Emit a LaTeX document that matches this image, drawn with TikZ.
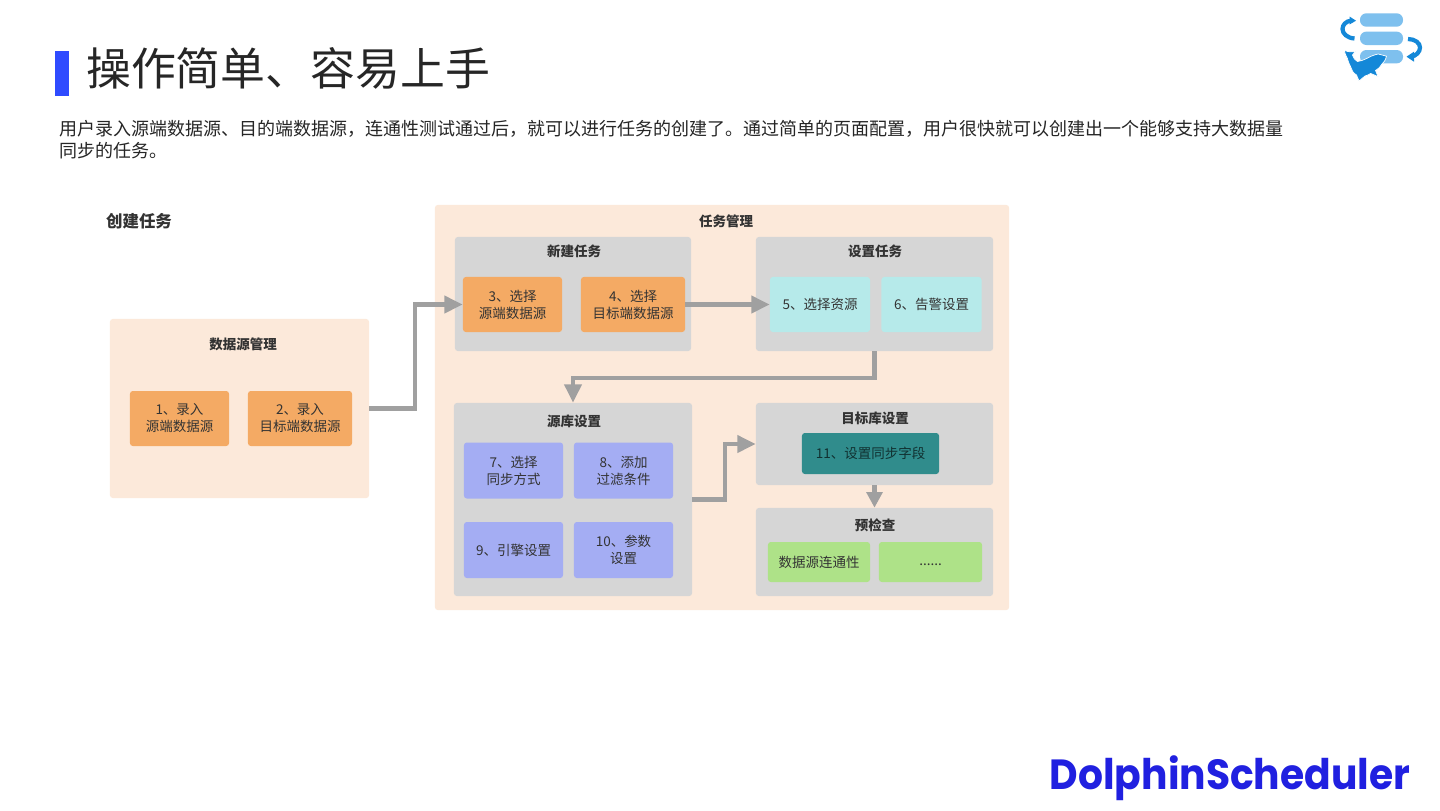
\documentclass[tikz,border=0pt]{standalone}
\usepackage{fontspec}
\usepackage{xcolor}
\setmainfont{Noto Sans CJK SC}
\newfontfamily\logofont[FakeStretch=0.93]{Poppins}
\usetikzlibrary{arrows.meta, positioning, calc}
\definecolor{cBar}{RGB}{47,75,255}
\definecolor{cPeach}{RGB}{252,233,218}
\definecolor{cPanel}{RGB}{214,214,214}
\definecolor{cOrange}{RGB}{244,170,100}
\definecolor{cCyan}{RGB}{182,234,234}
\definecolor{cViolet}{RGB}{164,173,243}
\definecolor{cTeal}{RGB}{48,140,140}
\definecolor{cGreen}{RGB}{174,226,136}
\definecolor{cFlow}{RGB}{160,160,160}
\definecolor{cInk}{RGB}{51,51,51}
\definecolor{cLogo}{RGB}{126,192,238}
\definecolor{cLogoDark}{RGB}{20,136,216}
\definecolor{cBrand}{RGB}{32,32,224}
\tikzset{
	panel/.style={rectangle, rounded corners=2pt, inner sep=0pt, fill=#1},
	panel/.default=cPanel,
	ptitle/.style={font=\fontsize{9.6}{12}\selectfont\bfseries, text=cInk, inner sep=0pt},
	% step cell
	acell/.style={rectangle, rounded corners=2pt, inner sep=0pt, align=center, text=cInk, fill=#1, font=\fontsize{9.6}{12.1}\selectfont},
	flowarrow/.style={-{Triangle[length=13pt, width=12pt]}, line width=2.9pt, draw=cFlow},
}
\begin{document}
\begin{tikzpicture}[x=0.025cm, y=-0.025cm]
	\useasboundingbox (0,0) rectangle (1440,810);
	\fill[white] (0,0) rectangle (1440,810);
	% heading
	\fill[cBar] (55,51) rectangle (69,96);
	\node[anchor=west, inner sep=0pt, text=black!85, font=\fontsize{31.9}{36}\selectfont] (head) at (86,68) {操作简单、容易上手};
	\node[anchor=north west, inner sep=0pt, text width=880pt, text=black!85, font=\fontsize{12.8}{15.6}\selectfont] (intro) at (59,120) {用户录入源端数据源、目的端数据源，连通性测试通过后，就可以进行任务的创建了。通过简单的页面配置，用户很快就可以创建出一个能够支持大数据量\\同步的任务。};
	\node[ptitle, font=\fontsize{11.7}{14}\selectfont\bfseries] (create) at (139,221) {创建任务};
	% panels
	\foreach \name/\cx/\cy/\bw/\bh/\col in {Ds/239.5/408.5/259/179/cPeach, Task/722/407.5/574/405/cPeach, New/573/294/236/114/cPanel, Set/874.5/294/237/114/cPanel, Src/573/499.5/238/193/cPanel, Tgt/874.5/444/237/82/cPanel, Chk/874.5/552/237/88/cPanel} {
		\node[panel=\col, minimum width=\bw*0.7113pt, minimum height=\bh*0.7113pt] (p\name) at (\cx,\cy) {};
	}
	\foreach \name/\cx/\cy/\txt in {Ds/243/344/数据源管理, Task/726/221/任务管理, New/574/251/新建任务, Set/875/251/设置任务, Src/574/421/源库设置, Tgt/875/418/目标库设置, Chk/875/525/预检查} {
		\node[ptitle] (t\name) at (\cx,\cy) {\txt};
	}
	% cells
	\foreach \idx/\cx/\cy/\bw/\txt in {1/179.5/418.5/99/{1、录入\\源端数据源}, 2/300/418.5/104/{2、录入\\目标端数据源}, 3/512.5/304.5/99/{3、选择\\源端数据源}, 4/633/304.5/104/{4、选择\\目标端数据源}} {
		\node[acell=cOrange, minimum width=\bw*0.7113pt, minimum height=55*0.7113pt] (c\idx) at (\cx,\cy) {\txt};
	}
	\foreach \idx/\cx/\txt in {5/820/5、选择资源, 6/931.5/6、告警设置} {
		\node[acell=cCyan, minimum width=100*0.7113pt, minimum height=55*0.7113pt] (c\idx) at (\cx,304.5) {\raisebox{-0.7pt}{\txt}};
	}
	\foreach \idx/\cx/\cy/\txt in {7/513.5/470.5/{7、选择\\同步方式}, 8/623.5/470.5/{8、添加\\过滤条件}, 9/513.5/550/\raisebox{-0.7pt}{9、引擎设置}, 10/623.5/550/{10、参数\\设置}} {
		\node[acell=cViolet, minimum width=99*0.7113pt, minimum height=56*0.7113pt] (c\idx) at (\cx,\cy) {\txt};
	}
	\node[acell=cTeal, minimum width=137*0.7113pt, minimum height=41*0.7113pt, text=black!65!cTeal] (c11) at (870.5,453.5) {\raisebox{-1.2pt}{11、设置同步字段}};
	\node[acell=cGreen, minimum width=102*0.7113pt, minimum height=40*0.7113pt] (c12) at (819,562) {\raisebox{-1.5pt}{数据源连通性}};
	\node[acell=cGreen, minimum width=103*0.7113pt, minimum height=40*0.7113pt] (c13) at (930.5,562) {\strut ......};
	% connectors
	\draw[flowarrow] (pDs.east) -- ++(46,0) |- (c3.west);
	\draw[flowarrow] (c4.east) -- (c5.west);
	\draw[flowarrow] (pSet.south) -- ++(0,27) -| (pSrc.north);
	\draw[flowarrow] (pSrc.east) -- ++(33,0) |- (pTgt.west);
	\draw[flowarrow, -{Triangle[length=11pt, width=11pt]}] (pTgt.south) -- (pChk.north);
	% logo
	\foreach \ty in {20,38.3,56.7} {
		\fill[cLogo, rounded corners=4.5pt] (1360,\ty-6.7) rectangle (1403,\ty+6.7);
	}
	\draw[cLogoDark, line width=3pt] (1354.5,38.5) .. controls (1347,38) and (1342.5,33.5) .. (1342.5,29) .. controls (1342.5,25) and (1346,21) .. (1351,20.7);
	\fill[cLogoDark] (1349.5,16.5) -- (1356,20.7) -- (1349.5,24.5) -- cycle;
	\draw[cLogoDark, line width=3pt] (1408,39) .. controls (1415,39) and (1420,43) .. (1420,47.5) .. controls (1420,52) and (1416,56) .. (1411,56.7);
	\fill[cLogoDark] (1406.5,56.7) -- (1414,51.7) -- (1414,61.7) -- cycle;
	\fill[cLogoDark, draw=white, line width=0.5pt] (1344,50.2) .. controls (1348,52) and (1352,52.5) .. (1355.5,51.2) -- (1352.5,55) .. controls (1353.5,58) and (1355,60.5) .. (1357.5,61.5) .. controls (1360,61.5) and (1363,60) .. (1366.7,58.5) .. controls (1371,56) and (1375,54.5) .. (1378.3,54) -- (1386.5,56.2) .. controls (1385.5,60) and (1384,62.5) .. (1382,64) .. controls (1380.5,67) and (1378,69) .. (1375.5,70.5) -- (1378,76.5) -- (1370.7,73.5) .. controls (1369,74.5) and (1367,75.5) .. (1365,76) -- (1359,81) -- (1356.5,75) .. controls (1353,73) and (1351.5,70) .. (1350.7,67) .. controls (1349,63.5) and (1348,61) .. (1347.3,58.3) .. controls (1346,56) and (1345,53.5) .. (1344,50.2) -- cycle;
	% brand
	\node[inner sep=0pt, text=cBrand, font=\logofont\fontsize{30}{34}\selectfont\bfseries] (brand) at (1230,778) {DolphinScheduler};
\end{tikzpicture}
\end{document}
